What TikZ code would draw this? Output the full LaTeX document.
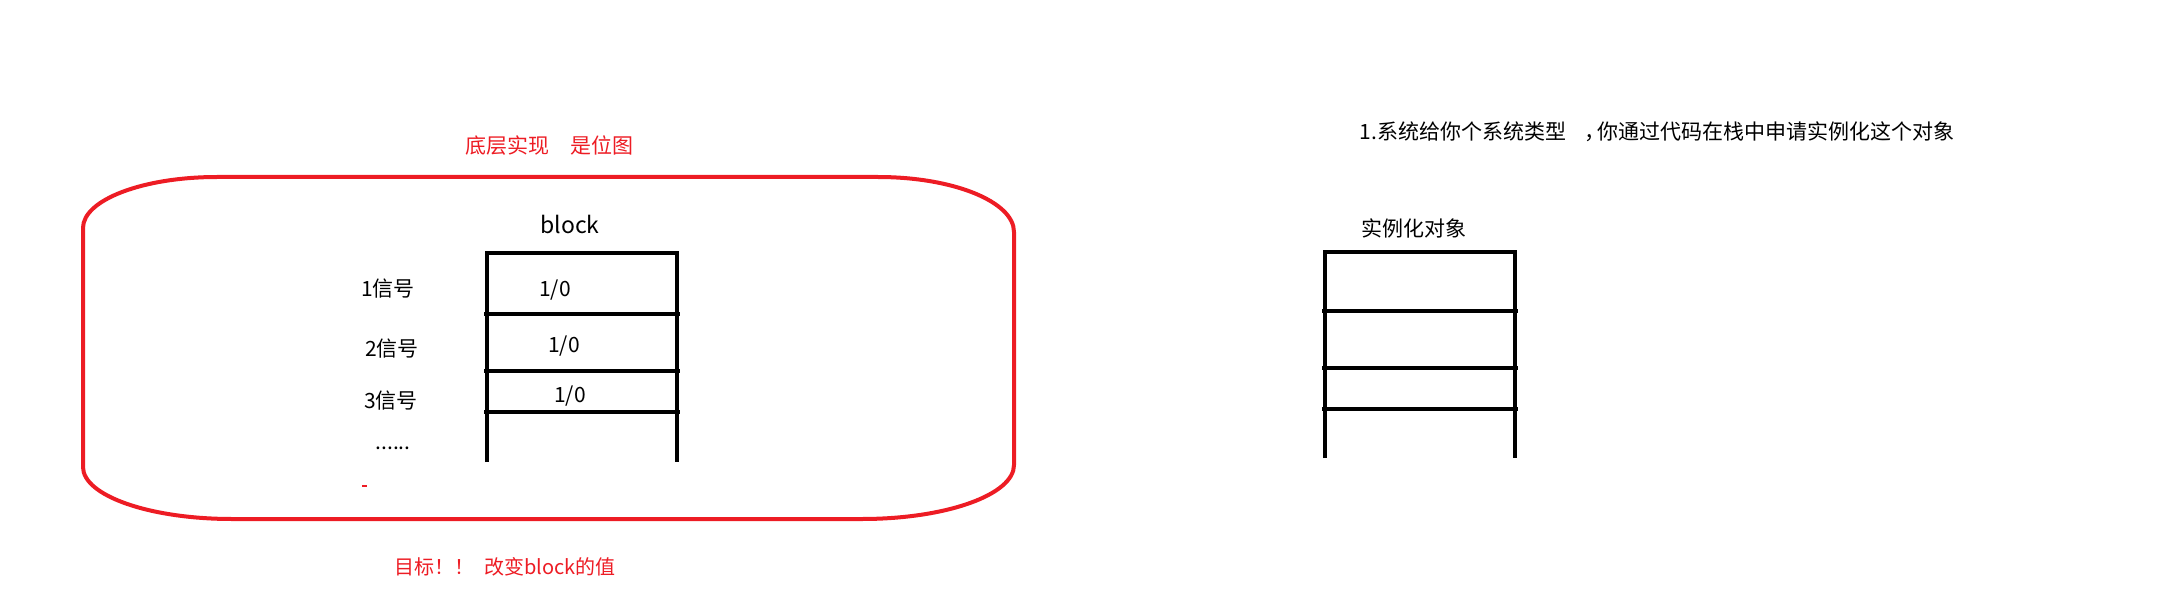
\documentclass[tikz,border=0pt]{standalone}
\usepackage{fontspec}
\setmainfont{Noto Sans CJK SC}
\usepackage{xcolor}
\usepackage{tikz}
\usetikzlibrary{positioning}
\definecolor{paintred}{RGB}{237,28,36}
\tikzset{
    lbl/.style={font=\fontsize{21}{25}\selectfont, inner sep=0pt},
    redlbl/.style={lbl, text=paintred},
    stackline/.style={line width=4.5pt},
    outline/.style={draw=paintred, line width=4pt},
}

\begin{document}
\begin{tikzpicture}[x=1pt,y=-1pt]
    \useasboundingbox (0,0) rectangle (2181,604);

    % Outline round the bitmap
    \draw[outline] (217,177) -- (878,177)
        arc[start angle=-90, end angle=0, x radius=136, y radius=55] -- (1014,465)
        arc[start angle=0, end angle=90, x radius=152, y radius=54] -- (232,519)
        arc[start angle=90, end angle=180, x radius=149, y radius=52] -- (83,228)
        arc[start angle=180, end angle=270, x radius=134, y radius=51] -- cycle;
    \draw[paintred, line width=2pt] (362,486) -- (367,486); % stray mark
    \node[redlbl] (impl) at (549,146) {底层实现　是位图};
    \node[redlbl, font=\fontsize{20}{24}\selectfont, anchor=west] (goal) at (394,567) {目标！！\hspace{10pt}改变block的值};

    % Block stack
    \node[lbl, font=\fontsize{23}{27}\selectfont] (blk) at (570,224) {block};
    \draw[stackline] (487,462) -- (487,253) -- (677,253) -- (677,462);
    \foreach \y in {314,371,412} {
        \draw[stackline] (484,\y) -- (680,\y);
    }
    \node[lbl] (sig1) at (388,289) {1信号};
    \node[lbl] (sig2) at (392,349) {2信号};
    \node[lbl] (sig3) at (391,401) {3信号};
    \node[lbl] (dots) at (393,448) {......};
    \node[lbl] (val1) at (555,290) {1/0};
    \node[lbl] (val2) at (564,346) {1/0};
    \node[lbl] (val3) at (570,396) {1/0};

    % Object stack
    \node[lbl] (note) at (1657,132) {1.系统给你个系统类型\hspace{18pt}，\hspace{-8pt}你通过代码在栈中申请实例化这个对象};
    \node[lbl] (obj) at (1414,228) {实例化对象};
    \draw[stackline] (1325,458) -- (1325,252) -- (1515,252) -- (1515,458);
    \foreach \y in {311,368,409} {
        \draw[stackline] (1322,\y) -- (1518,\y);
    }
\end{tikzpicture}
\end{document}
